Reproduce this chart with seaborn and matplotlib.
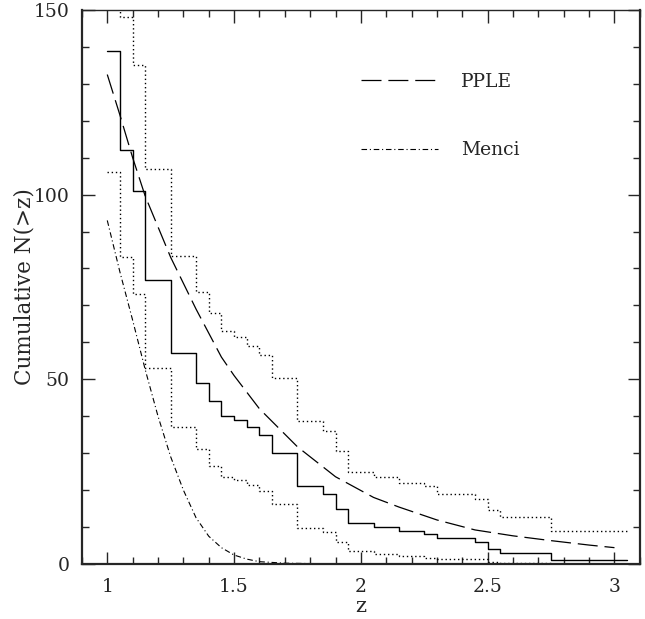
import seaborn as sns
import matplotlib.pyplot as plt
from matplotlib.ticker import MultipleLocator, FormatStrFormatter

# cumulative counts N(>z): step edges shared by the data and its bounds
z_edges = [1.00, 1.05, 1.10, 1.15, 1.25, 1.35, 1.40, 1.45, 1.50, 1.55, 1.60, 1.65,
           1.75, 1.85, 1.90, 1.95, 2.05, 2.15, 2.25, 2.30, 2.45, 2.50, 2.55, 2.75, 3.05]
n_obs = [139, 112, 101, 77, 57, 49, 44, 40, 39, 37, 35, 30,
         21, 19, 15, 11, 10, 9, 8, 7, 6, 4, 3, 1]
n_upper = [183, 148, 135, 107, 83.5, 73.7, 68, 63, 61.5, 59, 56.6, 50.4,
           38.8, 36, 30.6, 25, 23.6, 22, 21, 19, 17.6, 14.6, 12.7, 9]
n_lower = [106, 83, 73, 53, 37, 31, 26.6, 23.6, 22.8, 21.4, 19.8, 16.3,
           9.8, 8.7, 6, 3.4, 2.7, 2.2, 1.6, 1.4, 1.2, 0.4, 0.3, 0.1]

# model predictions
pple_z = [1.0, 1.05, 1.1, 1.15, 1.25, 1.35, 1.45, 1.5, 1.6, 1.75, 1.9,
          2.05, 2.15, 2.3, 2.45, 2.6, 2.75, 2.9, 3.0]
pple_n = [132.5, 121.5, 110, 99.5, 83, 69, 56, 51, 42, 31.7, 23.6,
          18, 15.4, 11.9, 9.2, 7.6, 6.3, 5.1, 4.4]
menci_z = [1.0, 1.05, 1.1, 1.15, 1.2, 1.25, 1.3, 1.35, 1.4, 1.45, 1.5,
           1.55, 1.6, 1.7, 1.8, 2.0, 2.5, 3.0]
menci_n = [93, 79, 66, 52.5, 40, 29, 20, 12.5, 7.5, 4.4, 2.4,
           1.3, 0.6, 0.2, 0.1, 0.05, 0.0, 0.0]

sns.set_style('ticks')
plt.rcParams['font.family'] = ['DejaVu Serif']

fig = plt.figure(figsize=(6.45, 6.19), dpi=100)
ax = fig.add_axes([0.127, 0.089, 0.865, 0.895])

# histogram steps (repeat last value so the final bin is drawn)
def steps(vals, **kw):
    sns.lineplot(x=z_edges, y=list(vals) + [vals[-1]], drawstyle='steps-post',
                 estimator=None, sort=False, color='black', ax=ax, **kw)

steps(n_obs, linewidth=1.0)
steps(n_upper, linewidth=1.0, linestyle=(0, (1, 2)))
steps(n_lower, linewidth=1.0, linestyle=(0, (1, 2)))

sns.lineplot(x=pple_z, y=pple_n, color='black', linewidth=0.9,
             linestyle=(0, (16, 5.5)), estimator=None, sort=False, ax=ax, label='PPLE')
sns.lineplot(x=menci_z, y=menci_n, color='black', linewidth=0.8,
             linestyle=(0, (5, 2.5, 1, 2.5)), estimator=None, sort=False, ax=ax, label='Menci')

handles, labels = ax.get_legend_handles_labels()
ax.legend(handles, labels, loc='upper left', bbox_to_anchor=(0.5, 0.887),
          frameon=False, fontsize=13.5, handlelength=4.1, handletextpad=1.25,
          labelspacing=2.7, borderpad=0, borderaxespad=0)

ax.set_xlim(0.9, 3.1)
ax.set_ylim(0, 150)
ax.xaxis.set_major_locator(MultipleLocator(0.5))
ax.xaxis.set_minor_locator(MultipleLocator(0.1))
ax.xaxis.set_major_formatter(FormatStrFormatter('%g'))
ax.yaxis.set_major_locator(MultipleLocator(50))
ax.yaxis.set_minor_locator(MultipleLocator(10))
ax.tick_params(which='both', direction='in', top=True, right=True, width=1.0)
ax.tick_params(which='major', length=9, labelsize=13.5)
ax.tick_params(axis='x', which='major', pad=10)
ax.tick_params(axis='y', which='major', pad=9)
ax.tick_params(which='minor', length=5)
for side in ['left', 'bottom', 'right']:
    ax.spines[side].set_linewidth(1.6)
ax.spines['top'].set_linewidth(1.0)

ax.set_xlabel('z', fontsize=15, labelpad=1)
ax.set_ylabel('Cumulative N(>z)', fontsize=15.5, labelpad=-1.5)

fig.savefig('out.png', dpi=100)
